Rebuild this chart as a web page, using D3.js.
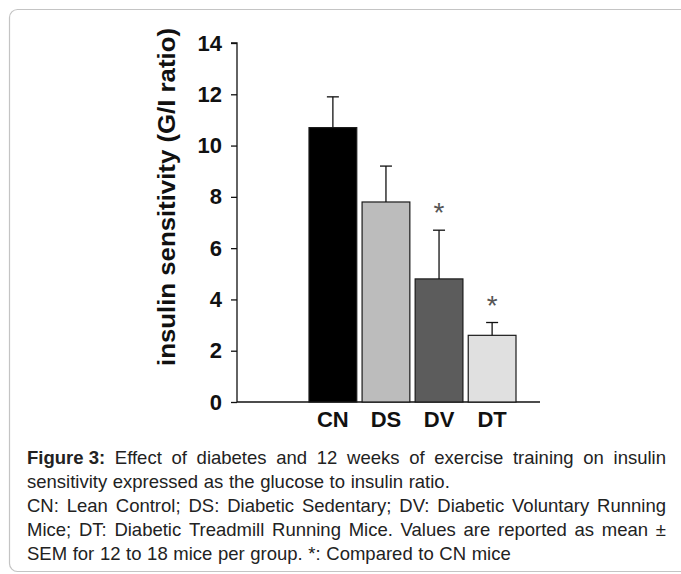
<!DOCTYPE html>
<html>
<head>
<meta charset="utf-8">
<script src="https://cdn.jsdelivr.net/npm/d3@7"></script>
<style>
  body { margin: 0; background: #fff; }
  svg { display: block; font-family: "Liberation Sans", Arial, sans-serif; }
</style>
</head>
<body>
<div id="chart"></div>
<script>
// data
var groups = ["CN", "DS", "DV", "DT"];
var means = [10.7, 7.8, 4.8, 2.6];
var sems = [1.2, 1.4, 1.9, 0.5];
var fills = ["#000000", "#bcbcbc", "#5c5c5c", "#e0e0e0"];
var starred = ["DV", "DT"];
var yTicks = [0, 2, 4, 6, 8, 10, 12, 14];

var captionLines = [
    {bold: "Figure 3:", text: " Effect of diabetes and 12 weeks of exercise training on insulin", justify: true},
    {bold: "", text: "sensitivity expressed as the glucose to insulin ratio.", justify: false},
    {bold: "", text: "CN: Lean Control; DS: Diabetic Sedentary; DV: Diabetic Voluntary Running", justify: true},
    {bold: "", text: "Mice; DT: Diabetic Treadmill Running Mice. Values are reported as mean \u00b1", justify: true},
    {bold: "", text: "SEM for 12 to 18 mice per group. *: Compared to CN mice", justify: false}
];

var width = 681, height = 574;

var svg = d3.select("#chart").append("svg")
    .attr("width", width)
    .attr("height", height);

// panel frame
svg.append("rect")
    .attr("x", 9.5).attr("y", 9.5)
    .attr("width", 700).attr("height", 562)
    .attr("rx", 8)
    .attr("fill", "none")
    .attr("stroke", "#c4c4c4")
    .attr("stroke-width", 1.2);

var y = d3.scaleLinear().domain([0, 14]).range([402, 43]);
var x = d3.scaleBand().domain(groups).range([309, 516]).paddingInner(0.1).paddingOuter(0);
var axisX = 237;

// y axis
var yAxis = svg.append("g")
    .attr("transform", `translate(${axisX},0)`)
    .call(d3.axisLeft(y).tickValues(yTicks).tickSize(6).tickPadding(9).tickFormat(d3.format("d")));
yAxis.select(".domain").attr("stroke", "#111").attr("stroke-width", 1.3).attr("d", `M-6,${y(14)}H0V${y(0)}`);
yAxis.selectAll(".tick line").attr("stroke", "#111").attr("stroke-width", 1.3);
yAxis.selectAll(".tick text")
    .attr("fill", "#111")
    .style("font-size", "22px")
    .style("font-weight", "bold")
    .style("font-family", "'Liberation Sans', Arial, sans-serif");

// baseline
svg.append("line")
    .attr("x1", axisX).attr("x2", 540)
    .attr("y1", y(0)).attr("y2", y(0))
    .attr("stroke", "#111").attr("stroke-width", 1.3);

// y label
svg.append("text")
    .attr("transform", `translate(175,197) rotate(-90)`)
    .attr("text-anchor", "middle")
    .attr("fill", "#111")
    .attr("textLength", 338)
    .attr("lengthAdjust", "spacingAndGlyphs")
    .style("font-size", "23px")
    .style("font-weight", "bold")
    .text("insulin sensitivity (G/I ratio)");

// bars
var data = groups.map((g, i) => ({g: g, mean: means[i], sem: sems[i], fill: fills[i]}));

svg.selectAll("rect.bar")
    .data(data)
    .enter()
    .append("rect")
    .attr("class", "bar")
    .attr("x", d => x(d.g))
    .attr("y", d => y(d.mean))
    .attr("width", x.bandwidth())
    .attr("height", d => y(0) - y(d.mean))
    .attr("fill", d => d.fill)
    .attr("stroke", "#1a1a1a")
    .attr("stroke-width", 1.2);

// error bars (upper only)
var err = svg.selectAll("g.err")
    .data(data)
    .enter()
    .append("g")
    .attr("class", "err");
err.append("line")
    .attr("x1", d => x(d.g) + x.bandwidth() / 2)
    .attr("x2", d => x(d.g) + x.bandwidth() / 2)
    .attr("y1", d => y(d.mean))
    .attr("y2", d => y(d.mean + d.sem))
    .attr("stroke", "#111").attr("stroke-width", 1.3);
err.append("line")
    .attr("x1", d => x(d.g) + x.bandwidth() / 2 - 6)
    .attr("x2", d => x(d.g) + x.bandwidth() / 2 + 6)
    .attr("y1", d => y(d.mean + d.sem))
    .attr("y2", d => y(d.mean + d.sem))
    .attr("stroke", "#111").attr("stroke-width", 1.3);

// significance marks
svg.selectAll("text.star")
    .data(data.filter(d => starred.indexOf(d.g) >= 0))
    .enter()
    .append("text")
    .attr("class", "star")
    .attr("x", d => x(d.g) + x.bandwidth() / 2)
    .attr("y", d => y(d.mean + d.sem) - 8)
    .attr("text-anchor", "middle")
    .attr("fill", "#555")
    .style("font-size", "28px")
    .text("*");

// category labels
svg.selectAll("text.cat")
    .data(groups)
    .enter()
    .append("text")
    .attr("class", "cat")
    .attr("x", d => x(d) + x.bandwidth() / 2)
    .attr("y", 427)
    .attr("text-anchor", "middle")
    .attr("fill", "#111")
    .style("font-size", "22px")
    .style("font-weight", "bold")
    .text(d => d);

// caption, justified like the journal layout
var capLeft = 27, capRight = 666, capTop = 464, lineGap = 24;
captionLines.forEach(function(line, i) {
    var yy = capTop + i * lineGap;
    var words = [];
    if (line.bold) words.push({t: line.bold, b: true});
    line.text.trim().split(" ").forEach(w => words.push({t: w, b: false}));

    var g = svg.append("g").attr("class", "caption");
    var nodes = words.map(function(w) {
        return g.append("text")
            .attr("y", yy)
            .attr("fill", "#222")
            .style("font-size", "18.5px")
            .style("font-weight", w.b ? "bold" : "normal")
            .text(w.t);
    });
    var widths = nodes.map(n => n.node().getComputedTextLength());
    var total = d3.sum(widths);
    var gap = line.justify ? (capRight - capLeft - total) / (nodes.length - 1) : 5.6;
    var cx = capLeft;
    nodes.forEach(function(n, k) {
        n.attr("x", cx);
        cx += widths[k] + gap;
    });
});
</script>
</body>
</html>
